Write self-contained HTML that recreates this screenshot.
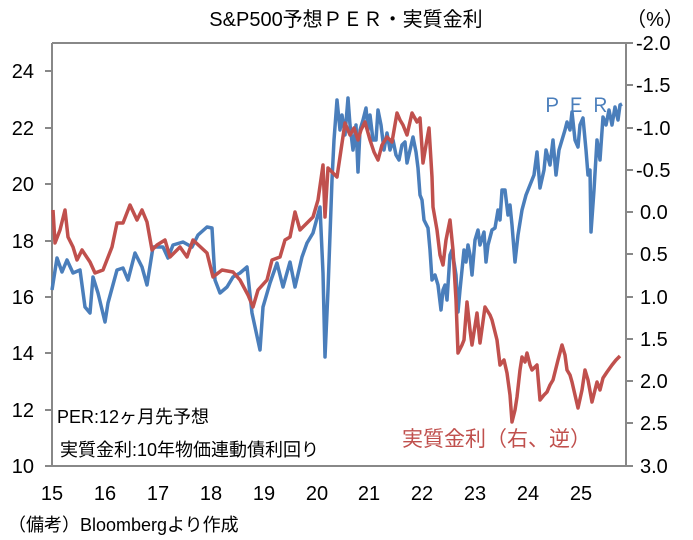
<!DOCTYPE html>
<html><head><meta charset="utf-8"><style>
html,body{margin:0;padding:0;background:#fff;}
svg{display:block;font-family:"Liberation Sans","Noto Sans CJK JP",sans-serif;}
</style></head><body>
<svg width="693" height="540" viewBox="0 0 693 540" xmlns="http://www.w3.org/2000/svg">
<rect width="693" height="540" fill="#fff"/>
<text x="346" y="26" font-size="20" text-anchor="middle" fill="#000">S&amp;P500予想ＰＥＲ・実質金利</text>
<text x="655" y="26" font-size="20" text-anchor="middle" fill="#000">（%）</text>
<g stroke="#888" stroke-width="2" fill="none">
<line x1="52" y1="43" x2="626" y2="43"/>
<line x1="52" y1="43" x2="52" y2="466"/>
<line x1="626" y1="43" x2="626" y2="466"/>
<line x1="45" y1="466" x2="633" y2="466"/>
<path d="M45 71h7M45 128h7M45 184h7M45 241h7M45 297h7M45 353h7M45 410h7"/>
<path d="M626 43h7M626 85h7M626 128h7M626 170h7M626 212h7M626 254h7M626 297h7M626 339h7M626 381h7M626 423h7"/>
</g>
<g font-size="20" fill="#000" text-anchor="end">
<text x="34" y="78">24</text><text x="34" y="135">22</text><text x="34" y="191">20</text><text x="34" y="248">18</text><text x="34" y="304">16</text><text x="34" y="360">14</text><text x="34" y="417">12</text><text x="34" y="473">10</text>
</g>
<g font-size="20" fill="#000">
<text x="636" y="50">-2.0</text><text x="636" y="92">-1.5</text><text x="636" y="135">-1.0</text><text x="636" y="177">-0.5</text><text x="640" y="219">0.0</text><text x="640" y="261">0.5</text><text x="640" y="304">1.0</text><text x="640" y="346">1.5</text><text x="640" y="388">2.0</text><text x="640" y="430">2.5</text><text x="640" y="473">3.0</text>
</g>
<g font-size="20" fill="#000" text-anchor="middle">
<text x="52" y="500">15</text><text x="105" y="500">16</text><text x="158" y="500">17</text><text x="211" y="500">18</text><text x="264" y="500">19</text><text x="317" y="500">20</text><text x="369" y="500">21</text><text x="422" y="500">22</text><text x="475" y="500">23</text><text x="528" y="500">24</text><text x="581" y="500">25</text>
</g>
<text x="8" y="531" font-size="18" fill="#000">（備考）Bloombergより作成</text>
<polyline fill="none" stroke="#4a7ebb" stroke-width="3.5" stroke-linejoin="round" points="52,290 57,258 62,272 67,260 73,273 80,270 85,307 90,313 93,277 98,293 105,322 108,303 117,270 123,268 128,280 135,253 142,267 147,285 153,247 163,247 168,258 173,245 183,242 192,247 198,235 207,227 212,228 215,280 220,293 227,287 233,277 240,273 247,267 252,313 260,350 263,307 270,283 277,263 283,287 290,262 295,287 302,257 307,243 313,233 320,207 323,273 325,357 328,290 332,180 334,140 337,100 340,130 342,115 345,135 348,98 350,125 353,150 356,125 358,172 360,130 363,120 366,108 368,130 370,115 373,140 376,140 378,110 381,125 384,150 387,133 390,150 393,140 396,155 399,160 402,145 405,142 407,163 410,150 413,137 416,152 418,168 420,195 422,200 424,220 428,228 430,250 432,280 435,275 438,285 441,310 443,290 445,285 447,300 450,255 452,250 454,262 456,275 458,312 460,290 462,270 464,250 466,262 468,245 470,255 472,275 475,240 478,230 480,245 484,232 486,262 488,245 492,230 495,228 498,210 500,220 502,190 505,190 508,215 510,205 512,225 515,262 518,235 522,210 526,195 530,185 534,175 537,152 540,188 544,170 546,150 550,165 553,140 556,175 559,150 562,140 565,130 567,122 570,130 572,112 575,140 578,147 580,125 583,118 586,150 588,175 590,170 591,232 594,190 597,140 600,160 603,117 606,125 609,110 612,125 615,107 618,120 620,105 622,104"/>
<polyline fill="none" stroke="#c0504d" stroke-width="3.5" stroke-linejoin="round" points="53,210 55,243 60,230 65,210 68,237 73,247 77,260 82,250 90,262 95,273 103,270 112,247 117,223 123,223 130,205 137,220 142,210 147,222 152,250 157,245 165,240 170,257 180,247 187,257 193,240 207,253 213,277 222,270 233,272 240,280 248,295 253,307 258,290 267,280 272,260 280,257 285,240 290,237 295,212 300,230 307,223 313,217 318,200 323,165 325,217 328,168 332,172 337,177 341,150 345,123 350,135 354,128 358,140 361,130 365,122 370,140 374,152 378,160 382,145 387,137 392,142 397,113 400,120 403,125 407,135 412,113 417,122 420,118 423,163 426,145 429,128 432,177 433,207 437,230 440,255 443,265 446,240 450,220 453,250 456,300 458,353 462,345 464,340 467,302 470,330 472,345 477,313 480,343 485,307 490,315 492,320 497,340 500,365 504,360 507,373 510,395 512,422 515,410 517,397 520,370 522,357 525,362 527,353 530,365 532,370 537,365 540,400 544,395 547,392 550,385 553,380 558,360 562,345 565,355 567,370 570,375 572,382 575,395 578,408 582,390 585,370 588,380 592,402 595,390 597,382 600,390 603,378 607,372 612,365 616,360 620,356"/>
<text x="542" y="112" font-size="20" fill="#4a7ebb" letter-spacing="4">ＰＥＲ</text>
<text x="402" y="446" font-size="21" fill="#c0504d">実質金利（右、逆）</text>
<text x="57" y="423" font-size="18" fill="#000">PER:12ヶ月先予想</text>
<text x="60" y="456" font-size="18" fill="#000">実質金利:10年物価連動債利回り</text>
</svg>
</body></html>
